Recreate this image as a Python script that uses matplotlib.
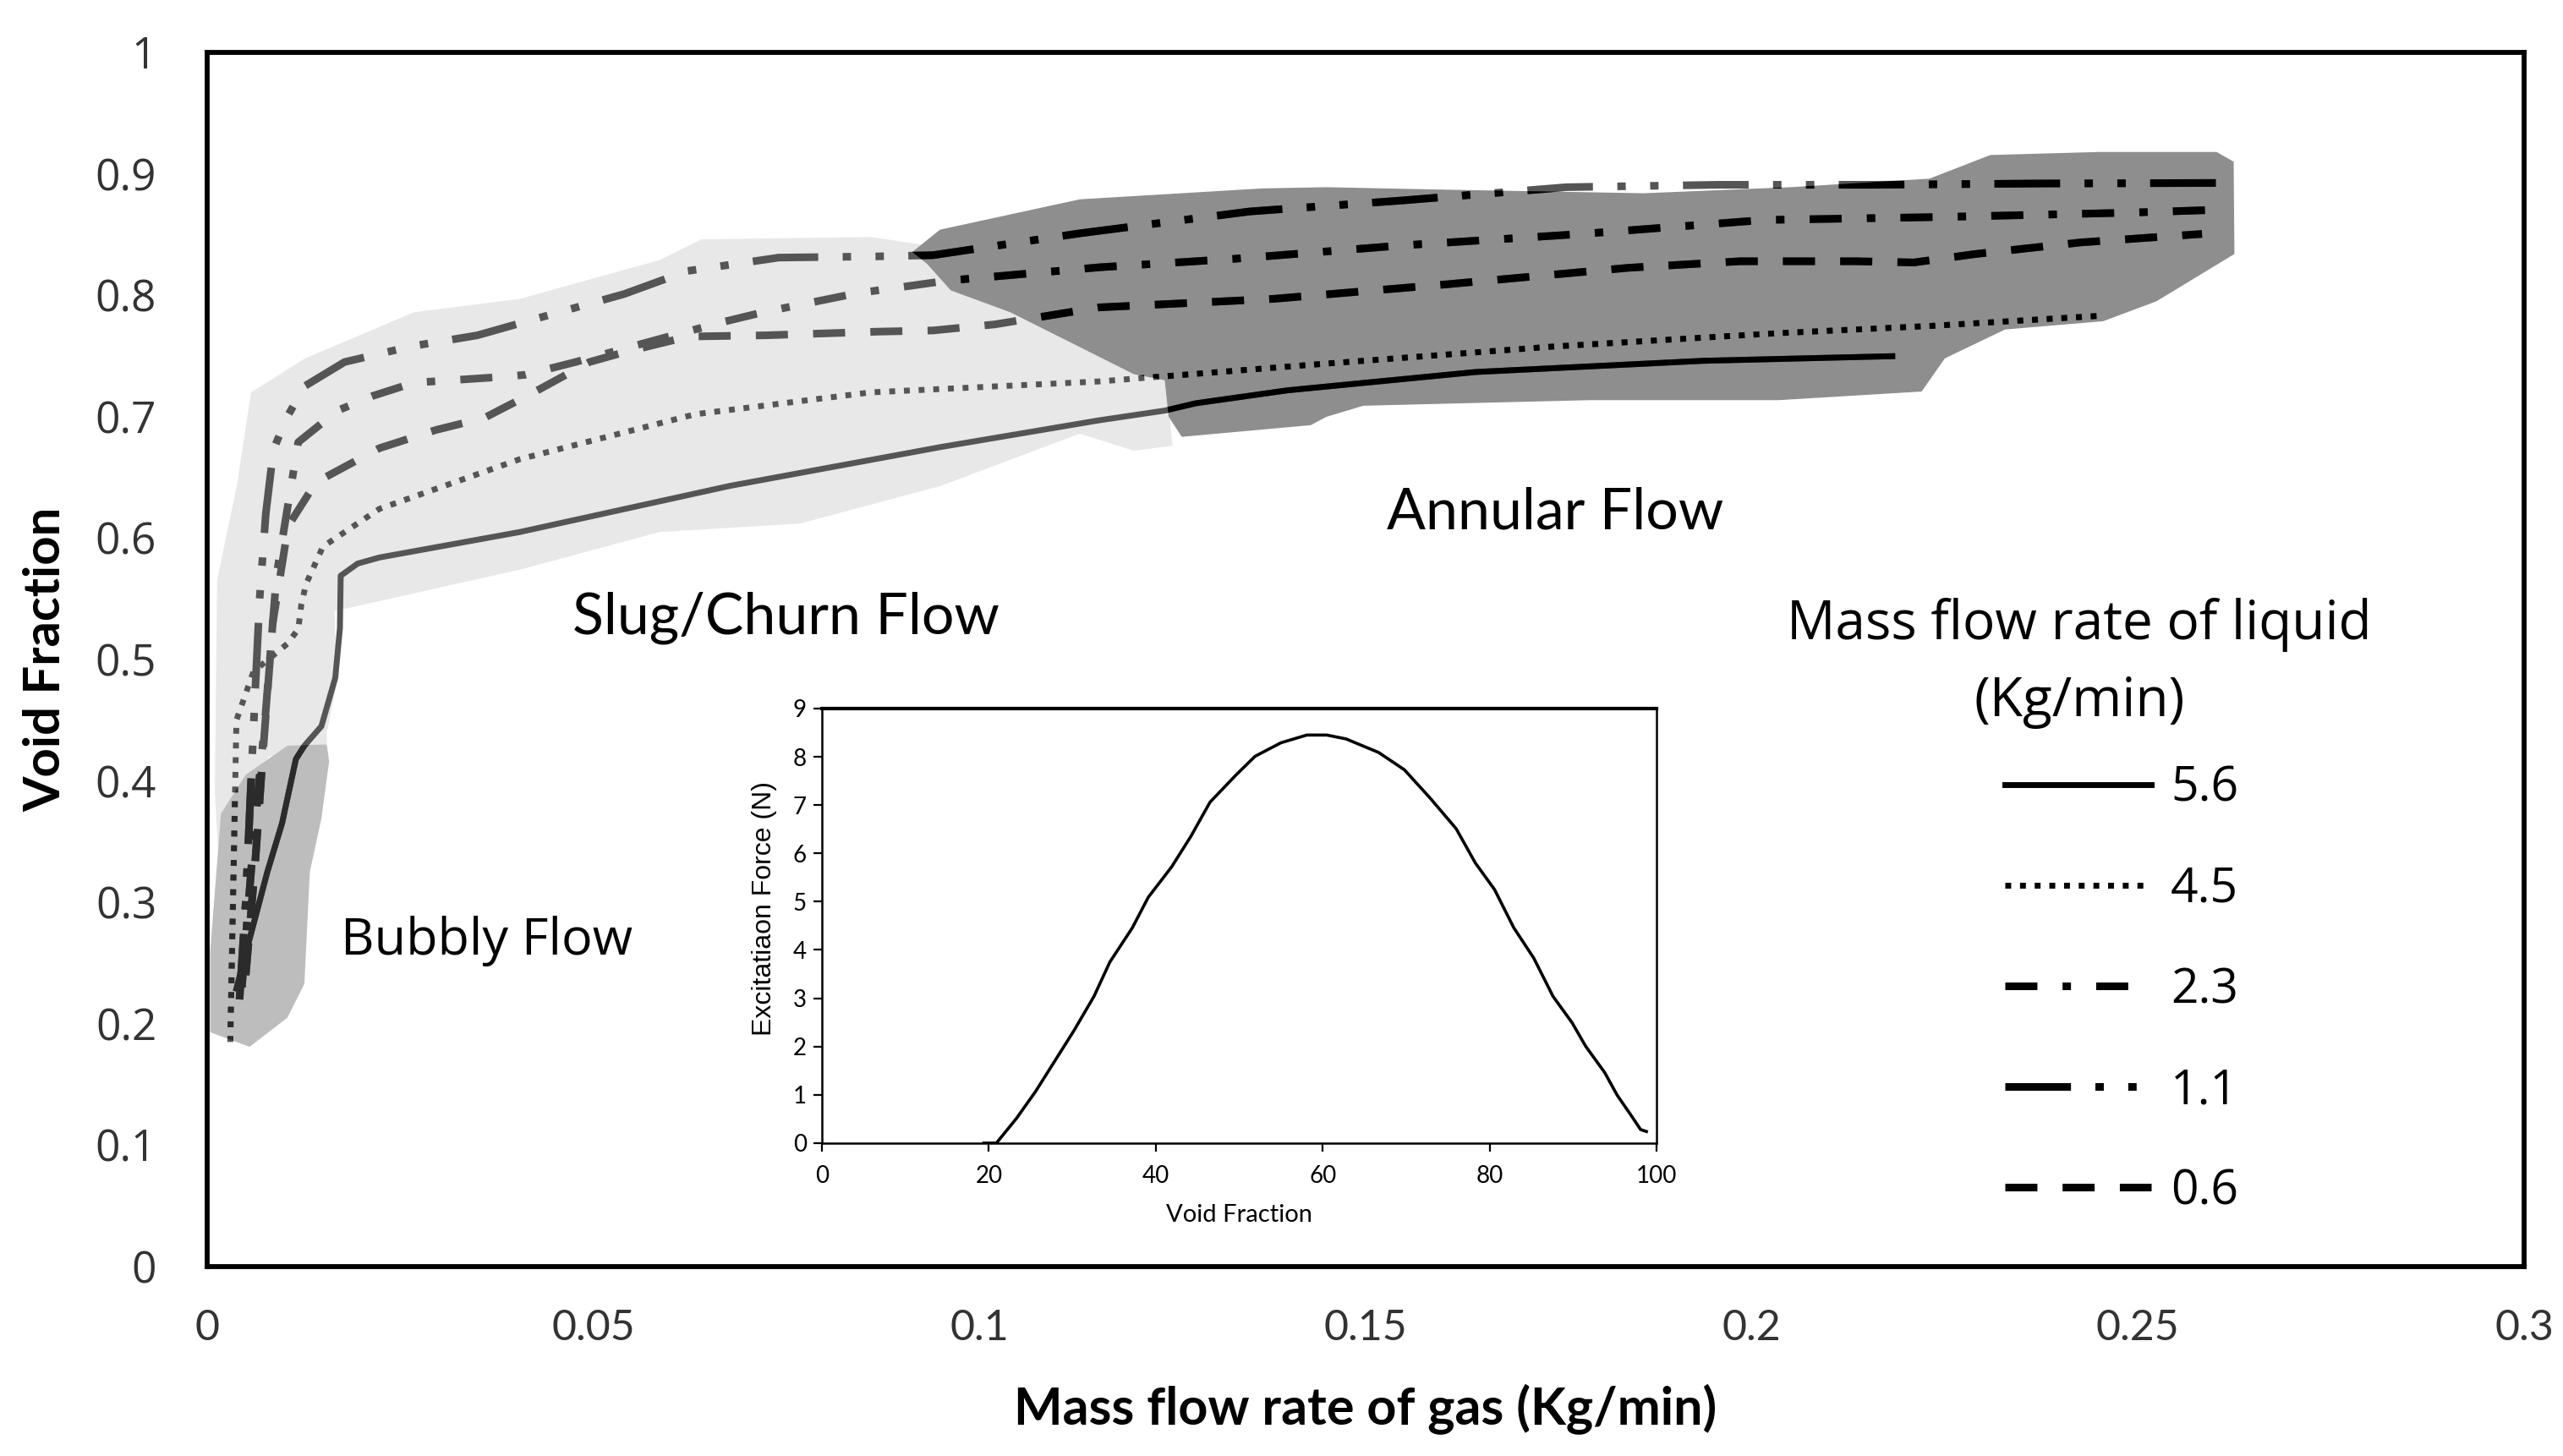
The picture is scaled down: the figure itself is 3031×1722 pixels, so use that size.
import numpy as np
import matplotlib.pyplot as plt
from matplotlib.patches import Polygon
from matplotlib.ticker import FuncFormatter

# liquid mass flow rates (Kg/min), one curve each
liquid_rates = ['5.6', '4.5', '2.3', '1.1', '0.6']

# void fraction vs mass flow rate of gas
gas_56 = [0.0038, 0.0078, 0.0097, 0.0115, 0.0126, 0.0148, 0.0166, 0.0172, 0.0173, 0.0195, 0.0223,
          0.0405, 0.0677, 0.095, 0.1155, 0.124, 0.128, 0.1399, 0.1643, 0.1937, 0.2182]
void_56 = [0.229, 0.325, 0.365, 0.418, 0.429, 0.445, 0.485, 0.526, 0.569, 0.579, 0.584,
           0.605, 0.643, 0.675, 0.697, 0.705, 0.711, 0.7217, 0.7368, 0.746, 0.7498]

gas_45 = [0.003, 0.0032, 0.0035, 0.0038, 0.006, 0.0104, 0.0118, 0.0122, 0.0128, 0.015, 0.0223,
          0.0405, 0.0632, 0.0859, 0.1155, 0.1449, 0.1742, 0.2035, 0.2231, 0.2455]
void_45 = [0.185, 0.25, 0.35, 0.45, 0.49, 0.513, 0.525, 0.545, 0.562, 0.593, 0.624,
           0.665, 0.702, 0.72, 0.729, 0.7437, 0.7577, 0.7688, 0.7747, 0.7832]

gas_23 = [0.0045, 0.006, 0.0075, 0.009, 0.0108, 0.0118, 0.0169, 0.0214, 0.0268, 0.0387, 0.0412,
          0.0477, 0.0586, 0.0668, 0.072, 0.084, 0.0958, 0.1155, 0.133, 0.1546, 0.178, 0.2016,
          0.225, 0.2487, 0.261]
void_23 = [0.23, 0.35, 0.45, 0.57, 0.64, 0.679, 0.705, 0.717, 0.728, 0.733, 0.7345,
           0.745, 0.764, 0.778, 0.786, 0.8015, 0.812, 0.823, 0.83, 0.841, 0.8505, 0.862,
           0.8645, 0.868, 0.8705]

gas_11 = [0.0042, 0.005, 0.0057, 0.0062, 0.0068, 0.0076, 0.0086, 0.0103, 0.0126, 0.0178, 0.0265,
          0.035, 0.045, 0.054, 0.0622, 0.074, 0.0868, 0.094, 0.113, 0.135, 0.1546, 0.176,
          0.1957, 0.216, 0.2367, 0.2605]
void_11 = [0.22, 0.3, 0.4, 0.47, 0.55, 0.62, 0.673, 0.699, 0.725, 0.745, 0.758,
           0.767, 0.785, 0.801, 0.82, 0.831, 0.832, 0.833, 0.851, 0.869, 0.878, 0.889,
           0.891, 0.891, 0.892, 0.8925]

gas_06 = [0.005, 0.0062, 0.0072, 0.0085, 0.0105, 0.0141, 0.0223, 0.0296, 0.0359, 0.0423, 0.0495,
          0.054, 0.0623, 0.0723, 0.0795, 0.0867, 0.094, 0.102, 0.1155, 0.138, 0.1605, 0.184,
          0.1985, 0.2133, 0.221, 0.229, 0.2426, 0.2583]
void_06 = [0.24, 0.33, 0.42, 0.53, 0.61, 0.646, 0.674, 0.689, 0.699, 0.72, 0.745,
           0.753, 0.766, 0.767, 0.7685, 0.77, 0.771, 0.776, 0.79, 0.797, 0.809, 0.8226,
           0.828, 0.828, 0.827, 0.834, 0.8435, 0.8505]

# flow regime regions (outlines)
bubbly_x = [0.0104, 0.0155, 0.0158, 0.0148, 0.0133, 0.0126, 0.0104, 0.0055, 0.0004, 0.0004, 0.0018, 0.005]
bubbly_y = [0.429, 0.43, 0.416, 0.369, 0.325, 0.233, 0.205, 0.181, 0.193, 0.26, 0.373, 0.405]

slug_x = [0.0057, 0.0127, 0.0268, 0.0405, 0.0586, 0.064, 0.0859, 0.0922, 0.097, 0.11, 0.124, 0.125,
          0.12, 0.113, 0.095, 0.0768, 0.0586, 0.0405, 0.0187, 0.0165, 0.0168, 0.0155, 0.0155,
          0.008, 0.003, 0.0015, 0.001, 0.0013, 0.0039]
slug_y = [0.72, 0.748, 0.786, 0.797, 0.829, 0.846, 0.848, 0.842, 0.835, 0.8, 0.74, 0.676,
          0.672, 0.686, 0.643, 0.612, 0.605, 0.574, 0.543, 0.54, 0.48, 0.44, 0.43,
          0.42, 0.36, 0.335, 0.39, 0.565, 0.645]

annular_x = [0.0913, 0.0949, 0.113, 0.1367, 0.1449, 0.16, 0.186, 0.205, 0.223, 0.2309, 0.245, 0.2602,
             0.2624, 0.2625, 0.2524, 0.2455, 0.2328, 0.225, 0.222, 0.2035, 0.179, 0.1497, 0.1449,
             0.1429, 0.1262, 0.1245, 0.124, 0.12, 0.104, 0.0963, 0.0932]
annular_y = [0.8356, 0.854, 0.879, 0.888, 0.889, 0.887, 0.884, 0.889, 0.896, 0.9155, 0.918, 0.918,
             0.91, 0.834, 0.795, 0.7786, 0.7718, 0.748, 0.7207, 0.7136, 0.7136, 0.709, 0.6998,
             0.693, 0.6834, 0.70, 0.73, 0.735, 0.786, 0.804, 0.826]

# inset: excitation force vs void fraction
inset_void = [19.4, 20.9, 23.3, 25.6, 27.9, 30.2, 32.6, 34.5, 37.2, 39.1, 41.9, 44.2, 46.5, 49.6,
              51.9, 55, 58.1, 60.5, 62.8, 66.7, 69.8, 72.9, 76, 78.3, 80.6, 82.9, 85.3, 87.6,
              89.9, 91.5, 93.8, 95.3, 96.9, 98.1, 98.8]
inset_force = [0, 0, 0.51, 1.07, 1.7, 2.33, 3.04, 3.75, 4.46, 5.09, 5.72, 6.35, 7.06, 7.62,
               8.01, 8.29, 8.45, 8.45, 8.37, 8.09, 7.73, 7.14, 6.51, 5.8, 5.25, 4.46, 3.83, 3.04,
               2.49, 2.01, 1.46, 0.99, 0.59, 0.28, 0.24]

series = [(gas_56, void_56), (gas_45, void_45), (gas_23, void_23), (gas_11, void_11), (gas_06, void_06)]
styles = ['-', (0, (1.0, 1.5)), (0, (4.2, 3.3, 1.1, 3.3)), (0, (8.6, 3.2, 1.1, 3.2, 1.1, 3.2)), (0, (4.2, 3.3))]
widths = [5, 5, 6.5, 6.5, 6.5]

fig = plt.figure(figsize=(30.31, 17.22), dpi=100)
ax = fig.add_axes([0.0808, 0.1301, 0.904, 0.8339])

slug = Polygon(np.column_stack([slug_x, slug_y]), closed=True, fc='#e8e8e8', ec='none', zorder=1)
bubbly = Polygon(np.column_stack([bubbly_x, bubbly_y]), closed=True, fc='#bdbdbd', ec='none', zorder=1.2)
annular = Polygon(np.column_stack([annular_x, annular_y]), closed=True, fc='#8e8e8e', ec='none', zorder=1.4)
for p in (slug, bubbly, annular):
    ax.add_patch(p)

handles = []
for (gx, vy), ls, lw in zip(series, styles, widths):
    ax.plot(gx, vy, color='#555555', ls=ls, lw=lw, zorder=2)
    lb, = ax.plot(gx, vy, color='#2b2b2b', ls=ls, lw=lw, zorder=3)
    lb.set_clip_path(bubbly)
    la, = ax.plot(gx, vy, color='black', ls=ls, lw=lw, zorder=3)
    la.set_clip_path(annular)
    handles.append(la)

ax.set_xlim(0, 0.3)
ax.set_ylim(0, 1)
ax.set_xticks(np.arange(0, 0.301, 0.05))
ax.set_yticks(np.arange(0, 1.001, 0.1))
fmt = FuncFormatter(lambda v, p: '%g' % round(v, 3))
ax.xaxis.set_major_formatter(fmt)
ax.yaxis.set_major_formatter(fmt)
ax.tick_params(axis='both', length=0, colors='#333333')
ax.tick_params(axis='y', pad=43)
ax.tick_params(axis='x', pad=36)
for t in ax.get_yticklabels():
    t.set_fontfamily('Open Sans')
    t.set_fontsize(37)
for t in ax.get_xticklabels():
    t.set_fontfamily('Lato')
    t.set_fontsize(36)
for s in ax.spines.values():
    s.set_linewidth(4.2)
    s.set_color('black')

ax.set_xlabel('Mass flow rate of gas (Kg/min)', fontfamily='Lato', fontweight='bold', fontsize=44, va='center')
ax.set_ylabel('Void Fraction', fontfamily='Lato', fontweight='bold', fontsize=43, va='center')
ax.xaxis.set_label_coords(0.5, -0.118)
ax.yaxis.set_label_coords(-0.0697, 0.5)

ax.text(0.0362, 0.268, 'Bubbly Flow', ha='center', va='center', fontfamily='Open Sans', fontsize=44, zorder=4)
ax.text(0.0749, 0.534, 'Slug/Churn Flow', ha='center', va='center', fontfamily='Lato', fontsize=49, zorder=4)
ax.text(0.1746, 0.621, 'Annular Flow', ha='center', va='center', fontfamily='Lato', fontsize=49, zorder=4)

# legend: title as its own text, entries below it
ax.text(0.808, 0.4967, 'Mass flow rate of liquid\n(Kg/min)', transform=ax.transAxes,
        ha='center', va='center', multialignment='center', linespacing=1.55,
        fontfamily='Open Sans', fontsize=46, zorder=4)
leg = ax.legend(handles, liquid_rates, loc='upper left', bbox_to_anchor=(0.776, 0.413),
                frameon=False, prop={'family': 'Open Sans', 'size': 41},
                handlelength=3.04, handletextpad=0.4, labelspacing=1.09,
                borderaxespad=0, borderpad=0)

# inset
ins = fig.add_axes([0.3207, 0.2149, 0.3256, 0.2985])
ins.plot(inset_void, inset_force, color='black', lw=2.6)
ins.set_xlim(0, 100)
ins.set_ylim(0, 9)
ins.set_xticks(range(0, 101, 20))
ins.set_yticks(range(0, 10))
ins.tick_params(axis='both', direction='out', length=7, width=1.6, colors='black', labelsize=20)
ins.tick_params(axis='x', pad=12)
ins.tick_params(axis='y', pad=6)
for t in ins.get_xticklabels() + ins.get_yticklabels():
    t.set_fontfamily('Lato')
for s in ins.spines.values():
    s.set_linewidth(1.8)
ins.spines['top'].set_linewidth(3)
ins.set_xlabel('Void Fraction', fontfamily='Lato', fontsize=21, va='center')
ins.set_ylabel('Excitatiaon Force (N)', fontfamily='Liberation Sans', fontsize=23, va='center')
ins.xaxis.set_label_coords(0.5, -0.165)
ins.yaxis.set_label_coords(-0.069, 0.539)

fig.savefig('out.png', dpi=100)
